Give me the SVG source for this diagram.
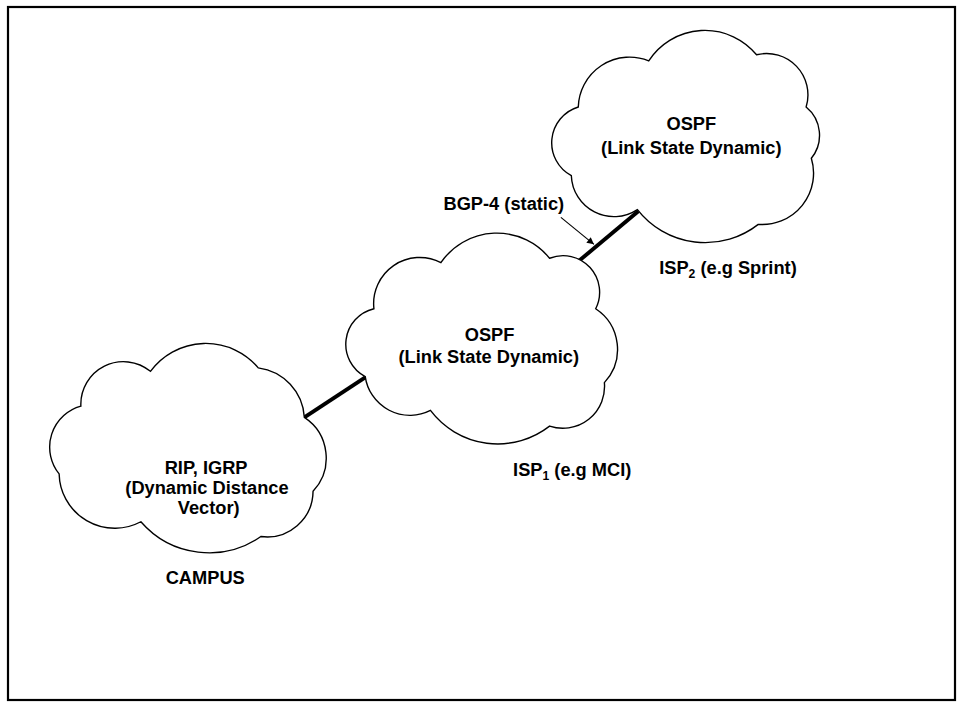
<svg xmlns="http://www.w3.org/2000/svg" width="963" height="724" viewBox="0 0 963 724">
<style>
.frame{stroke:#000;stroke-width:2.2;fill:none}
.cloud{fill:#fff;stroke:#000;stroke-width:1.6;stroke-linejoin:miter}
.lbl{font-family:"Liberation Sans",Arial,Helvetica,sans-serif;font-weight:bold;font-size:21px;fill:#000}
.mid{text-anchor:middle}
.link{stroke:#000;stroke-width:4.5;stroke-linecap:butt}
.ptr{stroke:#000;stroke-width:1.3;fill:none}
</style>
<defs>
<marker id="ah" viewBox="0 0 10 10" refX="10" refY="5" markerWidth="10" markerHeight="8" markerUnits="userSpaceOnUse" orient="auto">
<path d="M0,0 L10,5 L0,10 Z" fill="#000"/>
</marker>
</defs>
<rect width="963" height="724" fill="#fff"/>
<rect class="frame" x="8" y="7" width="947" height="693"/>
<g id="page" transform="scale(0.8696)">
<g id="connectors">
<line class="link" x1="350" y1="480" x2="420" y2="434"/>
<line class="link" x1="661" y1="304" x2="734" y2="243"/>
<line class="ptr" x1="645" y1="250" x2="683" y2="281" marker-end="url(#ah)"/>
<text class="lbl" x="510" y="241">BGP-4 (static)</text>
</g>
<g id="campus">
<path class="cloud" d="M173,427 A79,79 0 0 1 297,423 A61,61 0 0 1 350,480 A56,56 0 0 1 360,565 A53,53 0 0 1 300,617 A104,104 0 0 1 162,600 A64,64 0 0 1 68,545 A49,49 0 0 1 93,467 A49,49 0 0 1 173,427 Z"/>
<text class="lbl mid" x="237" y="545">RIP, IGRP</text>
<text class="lbl mid" x="238" y="568">(Dynamic Distance</text>
<text class="lbl mid" x="240" y="591">Vector)</text>
<text class="lbl mid" x="236" y="672">CAMPUS</text>
</g>
<g id="isp1">
<path class="cloud" d="M507,302 A78,78 0 0 1 632,297 A42,42 0 0 1 685,355 A56,56 0 0 1 695,440 A48,48 0 0 1 632,490 A97,97 0 0 1 495,472 A52,52 0 0 1 420,433 A42,42 0 0 1 430,355 A53,53 0 0 1 507,302 Z"/>
<text class="lbl mid" x="563" y="392">OSPF</text>
<text class="lbl mid" x="562" y="418">(Link State Dynamic)</text>
<text class="lbl" x="590" y="547">ISP<tspan font-size="14" dy="5">1</tspan><tspan dy="-5"> (e.g MCI)</tspan></text>
</g>
<g id="isp2">
<path class="cloud" d="M746,70 A77,77 0 0 1 870,63 A47.5,47.5 0 0 1 927,123 A42,42 0 0 1 933,182 A59,59 0 0 1 872,258 A99,99 0 0 1 733,241 A49,49 0 0 1 657,202 A43,43 0 0 1 665,123 A59,59 0 0 1 746,70 Z"/>
<text class="lbl mid" x="795" y="150">OSPF</text>
<text class="lbl mid" x="795" y="177">(Link State Dynamic)</text>
<text class="lbl" x="758" y="315">ISP<tspan font-size="14" dy="5">2</tspan><tspan dy="-5"> (e.g Sprint)</tspan></text>
</g>
</g>
</svg>
